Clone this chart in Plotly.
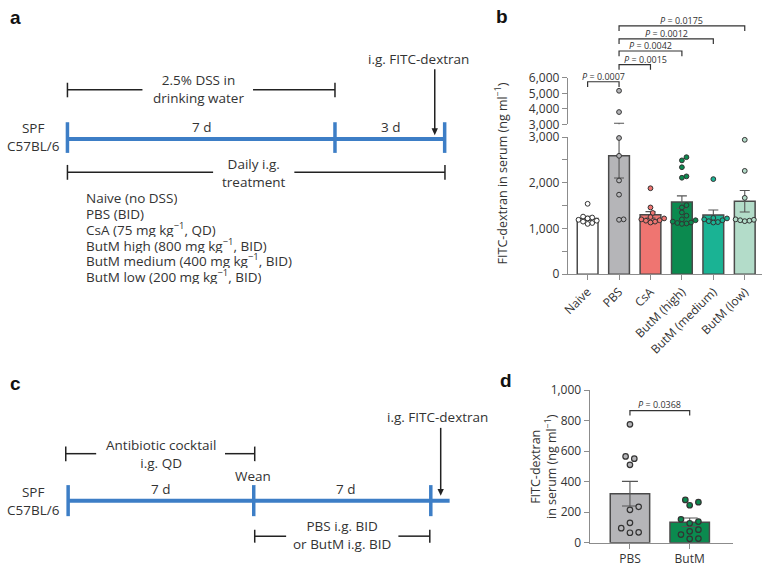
import numpy as np
import plotly.graph_objects as go

W, H = 766, 572
def px(x): return x / W
def py(y): return 1 - y / H

FONT = "Open Sans"
TXT = "#333333"
AX = "#8c8c8c"
BLUE = "#3d7ec6"

# ---------------- Panel b data ----------------
groups_b = ["Naive", "PBS", "CsA", "ButM (high)", "ButM (medium)", "ButM (low)"]
naive = [1540, 1260, 1240, 1220, 1190, 1170, 1150, 1120, 1100]
pbs = [5170, 3800, 2980, 2590, 2050, 1740, 1200, 1190]
csa = [1880, 1460, 1340, 1250, 1220, 1200, 1180, 1170, 1150, 1130]
butm_high = [2560, 2490, 2340, 2140, 2110, 1510, 1460, 1350, 1280, 1200, 1180, 1150, 1130, 1120, 1110, 1100]
butm_medium = [2080, 1230, 1220, 1200, 1180, 1160, 1140, 1130]
butm_low = [2940, 2260, 1670, 1200, 1190, 1180, 1170, 1160]
colors_b = ["#ffffff", "#b5b5b8", "#ef7571", "#0b8a4f", "#1ab394", "#b3dcc9"]
b_low_ticks = [0, 1000, 2000, 3000]
b_low_text = ["0", "1,000", "2,000", "3,000"]
b_low_minor = 500
b_up_ticks = [3000, 4000, 5000, 6000]
b_up_text = ["3,000", "4,000", "5,000", "6,000"]
b_break = 3000
p_b = [(0, 1, "0.0007"), (1, 2, "0.0015"), (1, 3, "0.0042"), (1, 4, "0.0012"), (1, 5, "0.0175")]

# ---------------- Panel d data ----------------
groups_d = ["PBS", "ButM"]
d_pbs = [775, 565, 550, 510, 235, 215, 130, 95, 68, 65]
d_butm = [280, 265, 245, 153, 138, 127, 85, 74, 53, 27, 25]
colors_d = ["#b5b5b8", "#0b8a4f"]
d_ticks = [0, 200, 400, 600, 800, 1000]
d_text = ["0", "200", "400", "600", "800", "1,000"]
p_d = "0.0368"

series_b = [naive, pbs, csa, butm_high, butm_medium, butm_low]
series_d = [d_pbs, d_butm]

def mean_sem(v):
    a = np.array(v, float)
    return a.mean(), a.std(ddof=1) / np.sqrt(len(a))

def swarm(vals, xscale, yscale, diam=4.6, step=2.3):
    placed = []
    out = [0.0] * len(vals)
    order = sorted(range(len(vals)), key=lambda i: vals[i])
    cands = [0.0]
    for n in range(1, 25):
        cands += [n * step, -n * step]
    for i in order:
        yv = vals[i] * yscale
        for c in cands:
            if all((c - a) ** 2 + (yv - b) ** 2 >= diam ** 2 for a, b in placed):
                break
        placed.append((c, yv))
        out[i] = c / xscale
    return out

fig = go.Figure()

# Panel b geometry
bx0, bx1 = 566, 762
b_xrange = [-0.63, 5.55]
b_low_dom = [py(273.3), py(132)]
b_up_dom = [py(119), py(71)]
b_xscale = 31.7
b_yscale_low = (273.3 - 132) / 3000

means_b = [mean_sem(s)[0] for s in series_b]
sems_b = [mean_sem(s)[1] for s in series_b]

fig.add_trace(go.Bar(
    x=list(range(len(groups_b))), y=means_b, width=0.66,
    marker=dict(color=colors_b, line=dict(color="#4a4a4a", width=1.5)),
    error_y=dict(type="data", array=sems_b, arrayminus=sems_b, color="#555555", thickness=1.1, width=5),
    xaxis="x", yaxis="y", showlegend=False))

for gi, s in enumerate(series_b):
    offs = swarm(s, b_xscale, b_yscale_low)
    lo = [(gi + o, v) for o, v in zip(offs, s) if v <= b_break]
    hi = [(gi, v) for v in s if v > b_break]
    mk = dict(size=4.8, color=colors_b[gi], line=dict(color="#333333", width=1))
    fig.add_trace(go.Scatter(x=[p[0] for p in lo], y=[p[1] for p in lo], mode="markers",
                             marker=mk, cliponaxis=False, xaxis="x", yaxis="y", showlegend=False))
    if hi:
        fig.add_trace(go.Scatter(x=[p[0] for p in hi], y=[p[1] for p in hi], mode="markers",
                                 marker=mk, cliponaxis=False, xaxis="x2", yaxis="y2", showlegend=False))

# error bars continuing into upper segment
for gi, (m, e) in enumerate(zip(means_b, sems_b)):
    if m + e > b_break:
        fig.add_trace(go.Scatter(x=[gi, gi], y=[b_break, m + e], mode="lines",
                                 line=dict(color="#555555", width=1.1), xaxis="x2", yaxis="y2",
                                 showlegend=False, cliponaxis=False))
        fig.add_trace(go.Scatter(x=[gi - 0.16, gi + 0.16], y=[m + e, m + e], mode="lines",
                                 line=dict(color="#555555", width=1.1), xaxis="x2", yaxis="y2",
                                 showlegend=False, cliponaxis=False))

# Panel d
means_d = [mean_sem(s)[0] for s in series_d]
sems_d = [mean_sem(s)[1] for s in series_d]
d_xscale = 60.3
d_yscale = (550 - 392.7) / 1000
fig.add_trace(go.Bar(
    x=[0, 1], y=means_d, width=0.66,
    marker=dict(color=colors_d, line=dict(color="#4a4a4a", width=1.5)),
    error_y=dict(type="data", array=sems_d, color="#555555", thickness=1.1, width=8),
    xaxis="x3", yaxis="y3", showlegend=False))
for gi, s in enumerate(series_d):
    offs = swarm(s, d_xscale, d_yscale, diam=6.5, step=4.4)
    fig.add_trace(go.Scatter(x=[gi + o for o in offs], y=s, mode="markers",
                             marker=dict(size=5.5, color=colors_d[gi], line=dict(color="#333333", width=1.2)),
                             cliponaxis=False, xaxis="x3", yaxis="y3", showlegend=False))

axis_common = dict(showgrid=False, zeroline=False, showline=True, linecolor=AX, linewidth=1,
                   ticks="outside", tickcolor=AX, ticklen=5, tickwidth=1,
                   tickfont=dict(family=FONT, size=12, color=TXT))
fig.update_layout(
    xaxis=dict(domain=[px(bx0), px(bx1)], range=b_xrange, anchor="y",
               tickvals=list(range(len(groups_b))), ticktext=groups_b, tickangle=-45, **axis_common),
    yaxis=dict(domain=b_low_dom, range=[0, b_break], anchor="x",
               tickvals=b_low_ticks, ticktext=b_low_text,
               minor=dict(dtick=b_low_minor, tick0=0, ticks="outside", ticklen=5, tickcolor=AX, showgrid=False),
               **axis_common),
    xaxis2=dict(domain=[px(bx0), px(bx1)], range=b_xrange, anchor="y2", visible=False,
                showticklabels=False),
    yaxis2=dict(domain=b_up_dom, range=[b_break, 6000], anchor="x2",
                tickvals=b_up_ticks, ticktext=b_up_text, **axis_common),
    xaxis3=dict(domain=[px(588), px(733)], range=[-0.675, 1.73], anchor="y3",
                tickvals=[0, 1], ticktext=groups_d, **axis_common),
    yaxis3=dict(domain=[py(550), py(392.7)], range=[0, 1000], anchor="x3",
                tickvals=d_ticks, ticktext=d_text, **axis_common),
)

shapes = []
anns = []

def line(x0, y0, x1, y1, color="#222222", w=1.5):
    shapes.append(dict(type="line", xref="paper", yref="paper", x0=px(x0), y0=py(y0), x1=px(x1), y1=py(y1),
                       line=dict(color=color, width=w)))

def text(x, y, t, size=13.5, anchor="center", bold=False, color=TXT, angle=0, height=None):
    a = dict(x=px(x), y=py(y), xref="paper", yref="paper", text=t, showarrow=False,
             xanchor=anchor, yanchor="middle", textangle=angle, borderpad=0,
             font=dict(family=("Liberation Sans" if bold else FONT), size=size, color=color))
    if height:
        a["height"] = height
    anns.append(a)

def arrow(x, y0, y1):
    line(x, y0, x, y1 - 5, "#222222", 1.5)
    shapes.append(dict(type="path", xref="paper", yref="paper",
                       path=f"M {px(x - 3.2)},{py(y1 - 7)} L {px(x + 3.2)},{py(y1 - 7)} L {px(x)},{py(y1)} Z",
                       fillcolor="#222222", line=dict(width=0)))

# ---------------- Panel a diagram ----------------
text(2, 9, "<b>a</b>", size=19, anchor="left", bold=True, color="#111111")
text(415, 51.7, "i.g. FITC-dextran")
arrow(431.7, 62, 130)
line(61, 83.3, 136.7, 83.3); line(248.3, 83.3, 331, 83.3)
line(61, 76, 61, 91); line(331, 76, 331, 91)
text(193, 82.5, "2.5% DSS in<br>drinking water")
line(61, 134, 441.7, 134, BLUE, 4)
for xx in (61, 331, 441.7):
    line(xx, 116.7, xx, 148.3, BLUE, 3.5)
text(196.7, 122, "7 d"); text(387.3, 122, "3 d")
text(27, 132, "SPF<br>C57BL/6")
line(61, 168.3, 208, 168.3); line(290, 168.3, 442, 168.3)
line(61, 160.7, 61, 176); line(442, 160.7, 442, 176)
text(249.3, 168.7, "Daily i.g.<br>treatment")
treat = ["Naive (no DSS)", "PBS (BID)", "CsA (75 mg kg<sup>\u22121</sup>, QD)",
         "ButM high (800 mg kg<sup>\u22121</sup>, BID)", "ButM medium (400 mg kg<sup>\u22121</sup>, BID)",
         "ButM low (200 mg kg<sup>\u22121</sup>, BID)"]
for i, t in enumerate(treat):
    text(78.5, 195 + 16.05 * i, t, anchor="left", height=16)

# ---------------- Panel c diagram ----------------
text(2, 385.5, "<b>c</b>", size=19, anchor="left", bold=True, color="#111111")
text(434.5, 420, "i.g. FITC-dextran")
arrow(437.7, 431.7, 501.7)
line(59.3, 458.3, 90, 458.3); line(220, 458.3, 250, 458.3)
line(59.3, 451, 59.3, 466); line(250, 451, 250, 466)
text(155, 458.5, "Antibiotic cocktail<br>i.g. QD")
text(248.3, 481.7, "Wean")
line(61.7, 506.7, 446.7, 506.7, BLUE, 4)
for xx in (61.7, 249, 427.7):
    line(xx, 490.7, xx, 522.7, BLUE, 3.5)
text(155, 495, "7 d"); text(341.7, 495, "7 d")
text(26.7, 507.5, "SPF<br>C57BL/6")
line(250, 543.3, 281.7, 543.3); line(395, 543.3, 426.7, 543.3)
line(250, 536.7, 250, 550); line(426.7, 536.7, 426.7, 550)
text(338.3, 541.8, "PBS i.g. BID<br>or ButM i.g. BID")

# ---------------- Panel b/d labels ----------------
text(492, 8, "<b>b</b>", size=19, anchor="left", bold=True, color="#111111")
text(497, 383, "<b>d</b>", size=19, anchor="left", bold=True, color="#111111")
text(499, 169, "FITC-dextran in serum (ng ml<sup>\u22121</sup>)", size=12.5, angle=-90)
text(542, 472, "FITC-dextran<br>in serum (ng ml<sup>\u22121</sup>)", size=12.5, angle=-90)

# significance brackets panel b
b_levels = [75, 57.3, 43.3, 30.7, 17.3]
for (g0, g1, p), yb in zip(p_b, b_levels):
    shapes.append(dict(type="path", xref="x", yref="paper",
                       path=f"M {g0},{py(yb + 5.3)} L {g0},{py(yb)} L {g1},{py(yb)} L {g1},{py(yb + 5.3)}",
                       line=dict(color="#333333", width=1.2)))
    if (g0, g1) == (1, 2):
        anns.append(dict(x=g0 + 0.12, y=py(yb - 5), xref="x", yref="paper", text=f"<i>P</i> = {p}",
                         showarrow=False, xanchor="left", yanchor="middle", borderpad=0,
                         font=dict(family=FONT, size=9, color=TXT)))
    else:
        anns.append(dict(x=(g0 + g1) / 2, y=py(yb - 5.5), xref="x", yref="paper", text=f"<i>P</i> = {p}",
                         showarrow=False, xanchor="center", yanchor="middle", borderpad=0,
                         font=dict(family=FONT, size=9, color=TXT)))

# panel d bracket
shapes.append(dict(type="path", xref="x3", yref="paper",
                   path=f"M 0,{py(419)} L 0,{py(414)} L 1,{py(414)} L 1,{py(419)}",
                   line=dict(color="#333333", width=1.2)))
anns.append(dict(x=0.5, y=py(407.3), xref="x3", yref="paper", text=f"<i>P</i> = {p_d}",
                 showarrow=False, xanchor="center", yanchor="middle", borderpad=0,
                 font=dict(family=FONT, size=9, color=TXT)))

fig.update_layout(autosize=True, margin=dict(l=0, r=0, t=0, b=0, pad=0),
                  paper_bgcolor="white", plot_bgcolor="white",
                  shapes=shapes, annotations=anns, showlegend=False,
                  font=dict(family=FONT, color=TXT))

# pin the plot div to the window's top-left corner so the page is exactly 766x572
fig.write_html("out.html", config={"displayModeBar": False},
               default_width=f"{W}px",
               default_height=f"{H}px; position:absolute; top:0; left:0")
